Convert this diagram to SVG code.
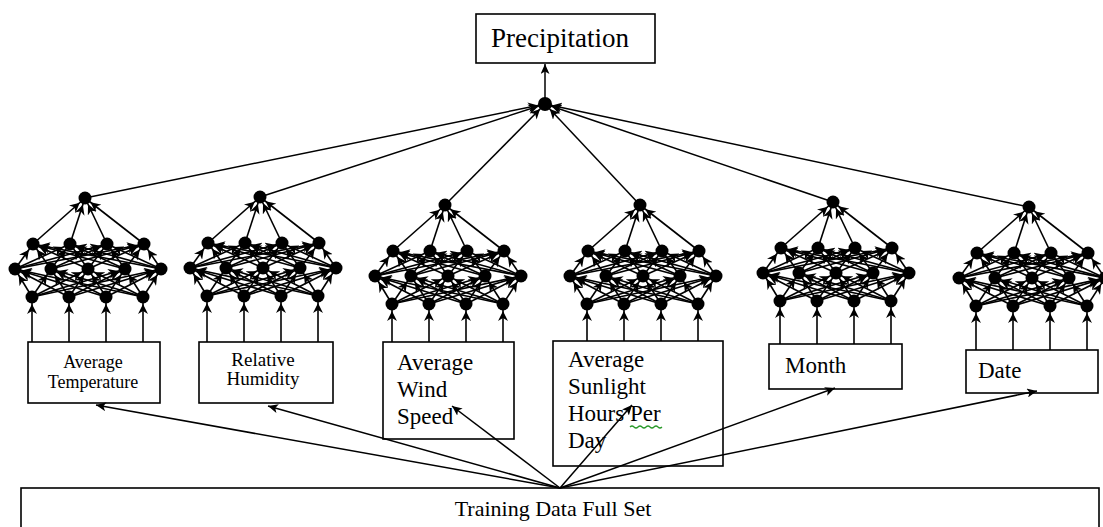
<svg xmlns="http://www.w3.org/2000/svg" xmlns:xlink="http://www.w3.org/1999/xlink" width="1103" height="527" viewBox="0 0 1103 527">
<style>
.e{stroke:#000;stroke-width:1.6;fill:none;marker-end:url(#a6)}
.t{stroke:#000;stroke-width:1.5;fill:none;marker-end:url(#a7)}
.f{stroke:#000;stroke-width:1.5;fill:none;marker-end:url(#a0)}
.in{stroke:#000;stroke-width:1.6;fill:none;marker-end:url(#a6)}
.n{fill:#000}
.box{fill:#fff;stroke:#000;stroke-width:1.6}
</style>
<defs>
<marker id="a6" viewBox="0 0 18 10" refX="17" refY="5" markerWidth="18" markerHeight="10" markerUnits="userSpaceOnUse" orient="auto"><path d="M0,0 L10,5 L0,10 L3,5 z" fill="#000"/></marker>
<marker id="a7" viewBox="0 0 18 10" refX="17" refY="5" markerWidth="18" markerHeight="10" markerUnits="userSpaceOnUse" orient="auto"><path d="M0,0 L10,5 L0,10 L3,5 z" fill="#000"/></marker>
<marker id="a0" viewBox="0 0 11 9" refX="10" refY="4.5" markerWidth="11" markerHeight="9" markerUnits="userSpaceOnUse" orient="auto"><path d="M0,0 L10,4.5 L0,9 L2.5,4.5 z" fill="#000"/></marker>
<g id="net">
<line class="e" x1="-53" y1="99" x2="-70" y2="71"/><line class="e" x1="-53" y1="99" x2="-34" y2="71"/><line class="e" x1="-53" y1="99" x2="3" y2="71"/><line class="e" x1="-53" y1="99" x2="40" y2="71"/><line class="e" x1="-53" y1="99" x2="76" y2="71"/>
<line class="e" x1="-16" y1="99" x2="-70" y2="71"/><line class="e" x1="-16" y1="99" x2="-34" y2="71"/><line class="e" x1="-16" y1="99" x2="3" y2="71"/><line class="e" x1="-16" y1="99" x2="40" y2="71"/><line class="e" x1="-16" y1="99" x2="76" y2="71"/>
<line class="e" x1="21" y1="99" x2="-70" y2="71"/><line class="e" x1="21" y1="99" x2="-34" y2="71"/><line class="e" x1="21" y1="99" x2="3" y2="71"/><line class="e" x1="21" y1="99" x2="40" y2="71"/><line class="e" x1="21" y1="99" x2="76" y2="71"/>
<line class="e" x1="58" y1="99" x2="-70" y2="71"/><line class="e" x1="58" y1="99" x2="-34" y2="71"/><line class="e" x1="58" y1="99" x2="3" y2="71"/><line class="e" x1="58" y1="99" x2="40" y2="71"/><line class="e" x1="58" y1="99" x2="76" y2="71"/>
<line class="e" x1="-70" y1="71" x2="-52" y2="46"/><line class="e" x1="-70" y1="71" x2="-15" y2="46"/><line class="e" x1="-70" y1="71" x2="22" y2="46"/><line class="e" x1="-70" y1="71" x2="59" y2="46"/>
<line class="e" x1="-34" y1="71" x2="-52" y2="46"/><line class="e" x1="-34" y1="71" x2="-15" y2="46"/><line class="e" x1="-34" y1="71" x2="22" y2="46"/><line class="e" x1="-34" y1="71" x2="59" y2="46"/>
<line class="e" x1="3" y1="71" x2="-52" y2="46"/><line class="e" x1="3" y1="71" x2="-15" y2="46"/><line class="e" x1="3" y1="71" x2="22" y2="46"/><line class="e" x1="3" y1="71" x2="59" y2="46"/>
<line class="e" x1="40" y1="71" x2="-52" y2="46"/><line class="e" x1="40" y1="71" x2="-15" y2="46"/><line class="e" x1="40" y1="71" x2="22" y2="46"/><line class="e" x1="40" y1="71" x2="59" y2="46"/>
<line class="e" x1="76" y1="71" x2="-52" y2="46"/><line class="e" x1="76" y1="71" x2="-15" y2="46"/><line class="e" x1="76" y1="71" x2="22" y2="46"/><line class="e" x1="76" y1="71" x2="59" y2="46"/>
<line class="e" x1="-52" y1="46" x2="0" y2="0"/><line class="e" x1="-15" y1="46" x2="0" y2="0"/><line class="e" x1="22" y1="46" x2="0" y2="0"/><line class="e" x1="59" y1="46" x2="0" y2="0"/>
<circle class="n" cx="0" cy="0" r="6.5"/>
<circle class="n" cx="-52" cy="46" r="6.5"/><circle class="n" cx="-15" cy="46" r="6.5"/><circle class="n" cx="22" cy="46" r="6.5"/><circle class="n" cx="59" cy="46" r="6.5"/>
<circle class="n" cx="-70" cy="71" r="6.5"/><circle class="n" cx="-34" cy="71" r="6.5"/><circle class="n" cx="3" cy="71" r="6.5"/><circle class="n" cx="40" cy="71" r="6.5"/><circle class="n" cx="76" cy="71" r="6.5"/>
<circle class="n" cx="-53" cy="99" r="6.5"/><circle class="n" cx="-16" cy="99" r="6.5"/><circle class="n" cx="21" cy="99" r="6.5"/><circle class="n" cx="58" cy="99" r="6.5"/>
</g>
</defs>

<g id="connectors">
<line class="t" x1="85" y1="198" x2="545" y2="104"/>
<line class="t" x1="260" y1="197" x2="545" y2="104"/>
<line class="t" x1="445" y1="205" x2="545" y2="104"/>
<line class="t" x1="640" y1="205" x2="545" y2="104"/>
<line class="t" x1="833" y1="202" x2="545" y2="104"/>
<line class="t" x1="1029" y1="207" x2="545" y2="104"/>
<line class="f" x1="545" y1="98" x2="545" y2="64"/>
<line class="in" x1="32" y1="342" x2="32" y2="297"/><line class="in" x1="69" y1="342" x2="69" y2="297"/><line class="in" x1="106" y1="342" x2="106" y2="297"/><line class="in" x1="143" y1="342" x2="143" y2="297"/>
<line class="in" x1="207" y1="342" x2="207" y2="296"/><line class="in" x1="244" y1="342" x2="244" y2="296"/><line class="in" x1="281" y1="342" x2="281" y2="296"/><line class="in" x1="318" y1="342" x2="318" y2="296"/>
<line class="in" x1="392" y1="342" x2="392" y2="304"/><line class="in" x1="429" y1="342" x2="429" y2="304"/><line class="in" x1="466" y1="342" x2="466" y2="304"/><line class="in" x1="503" y1="342" x2="503" y2="304"/>
<line class="in" x1="587" y1="341" x2="587" y2="304"/><line class="in" x1="624" y1="341" x2="624" y2="304"/><line class="in" x1="661" y1="341" x2="661" y2="304"/><line class="in" x1="698" y1="341" x2="698" y2="304"/>
<line class="in" x1="780" y1="344" x2="780" y2="301"/><line class="in" x1="817" y1="344" x2="817" y2="301"/><line class="in" x1="854" y1="344" x2="854" y2="301"/><line class="in" x1="891" y1="344" x2="891" y2="301"/>
<line class="in" x1="976" y1="350" x2="976" y2="306"/><line class="in" x1="1013" y1="350" x2="1013" y2="306"/><line class="in" x1="1050" y1="350" x2="1050" y2="306"/><line class="in" x1="1087" y1="350" x2="1087" y2="306"/>
</g>

<g id="net-temperature"><use xlink:href="#net" href="#net" x="85" y="198"/></g>
<g id="net-humidity"><use xlink:href="#net" href="#net" x="260" y="197"/></g>
<g id="net-wind"><use xlink:href="#net" href="#net" x="445" y="205"/></g>
<g id="net-sunlight"><use xlink:href="#net" href="#net" x="640" y="205"/></g>
<g id="net-month"><use xlink:href="#net" href="#net" x="833" y="202"/></g>
<g id="net-date"><use xlink:href="#net" href="#net" x="1029" y="207"/></g>

<g id="aggregate"><circle class="n" cx="545" cy="104" r="7"/></g>

<g font-family="Liberation Serif, Times New Roman, DejaVu Serif, serif" fill="#000">
<g id="precipitation">
<rect class="box" x="476" y="14" width="179" height="49"/>
<text x="491" y="47" font-size="27">Precipitation</text>
</g>

<g id="box-temperature">
<rect class="box" x="28" y="342" width="132" height="61"/>
<text x="93" y="368" font-size="18" text-anchor="middle">Average</text>
<text x="93" y="388" font-size="18" text-anchor="middle">Temperature</text>
</g>
<g id="box-humidity">
<rect class="box" x="199" y="342" width="134" height="61"/>
<text x="263" y="366" font-size="19" text-anchor="middle">Relative</text>
<text x="263" y="385" font-size="19" text-anchor="middle">Humidity</text>
</g>
<g id="box-wind">
<rect class="box" x="383" y="342" width="131" height="97"/>
<text x="397" y="370" font-size="23">Average</text>
<text x="397" y="397" font-size="23">Wind</text>
<text x="397" y="424" font-size="23">Speed</text>
</g>
<g id="box-sunlight">
<rect class="box" x="553" y="341" width="170" height="125"/>
<text x="568" y="367" font-size="23">Average</text>
<text x="568" y="394" font-size="23">Sunlight</text>
<text x="568" y="421" font-size="23">Hours Per</text>
<text x="568" y="448" font-size="23">Day</text>
<path d="M630,427 q2,-2 4,0 t4,0 t4,0 t4,0 t4,0 t4,0 t4,0 t4,0" stroke="#2a9a2a" stroke-width="1.2" fill="none"/>
</g>
<g id="box-month">
<rect class="box" x="769" y="344" width="133" height="45"/>
<text x="785" y="373" font-size="23">Month</text>
</g>
<g id="box-date">
<rect class="box" x="966" y="350" width="132" height="43"/>
<text x="978" y="378" font-size="23">Date</text>
</g>

<g id="training-set">
<rect class="box" x="21" y="488" width="1078" height="60"/>
<text x="553" y="516" font-size="22" text-anchor="middle">Training Data Full Set</text>
</g>
</g>

<g id="fan-connectors">
<line class="f" x1="560" y1="488" x2="96" y2="405"/>
<line class="f" x1="560" y1="488" x2="268" y2="406"/>
<line class="f" x1="560" y1="488" x2="452" y2="406"/>
<line class="f" x1="560" y1="488" x2="632" y2="405"/>
<line class="f" x1="560" y1="488" x2="835" y2="388"/>
<line class="f" x1="560" y1="488" x2="1037" y2="391"/>
</g>
</svg>
